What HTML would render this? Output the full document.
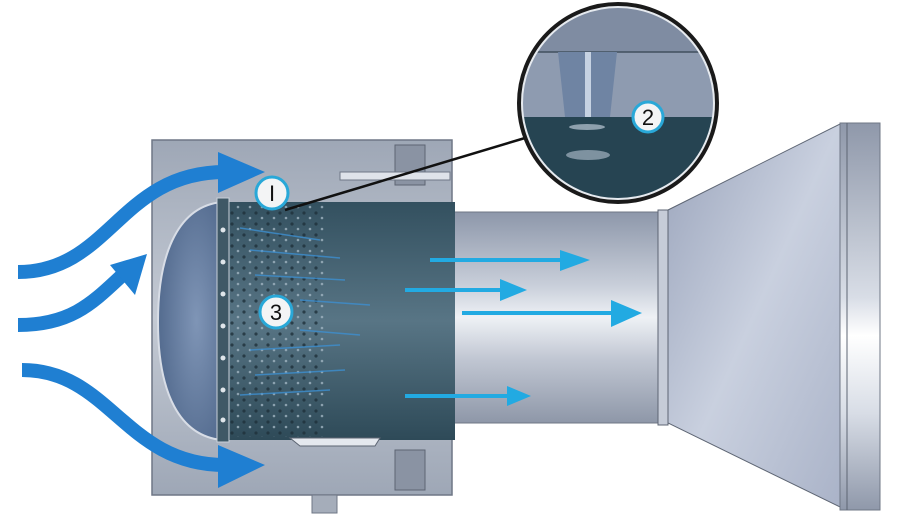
<!DOCTYPE html>
<html><head><style>
html,body{margin:0;padding:0;background:#fff;}
svg{display:block;}
text{font-family:"Liberation Sans",sans-serif;}
</style></head><body>
<svg width="910" height="524" viewBox="0 0 910 524" xmlns="http://www.w3.org/2000/svg">
<defs>
<linearGradient id="tube" x1="0" y1="0" x2="0" y2="1">
<stop offset="0" stop-color="#8d97aa"/><stop offset="0.35" stop-color="#c9cfda"/><stop offset="0.5" stop-color="#eef1f5"/><stop offset="0.7" stop-color="#c0c6d2"/><stop offset="1" stop-color="#8e97a8"/>
</linearGradient>
<linearGradient id="cone" x1="0" y1="0" x2="1" y2="1">
<stop offset="0" stop-color="#9aa4bb"/><stop offset="0.5" stop-color="#c9d0df"/><stop offset="1" stop-color="#aab3c8"/>
</linearGradient>
<linearGradient id="flange" x1="0" y1="0" x2="0" y2="1">
<stop offset="0" stop-color="#8f98aa"/><stop offset="0.45" stop-color="#d8dde6"/><stop offset="0.55" stop-color="#ffffff"/><stop offset="0.75" stop-color="#d8dde6"/><stop offset="1" stop-color="#8f98aa"/>
</linearGradient>
<linearGradient id="dark" x1="0" y1="0" x2="0" y2="1">
<stop offset="0" stop-color="#33505f"/><stop offset="0.5" stop-color="#587585"/><stop offset="1" stop-color="#2e4a58"/>
</linearGradient>
<linearGradient id="house" x1="0" y1="0" x2="0" y2="1">
<stop offset="0" stop-color="#9ea7b6"/><stop offset="0.5" stop-color="#c4cad4"/><stop offset="1" stop-color="#9ea7b6"/>
</linearGradient>
<radialGradient id="dome" cx="0.6" cy="0.5" r="0.7">
<stop offset="0" stop-color="#7f95b6"/><stop offset="1" stop-color="#4c6488"/>
</radialGradient>
<pattern id="holes" width="12" height="11" patternUnits="userSpaceOnUse">
<circle cx="4" cy="4" r="1.6" fill="#1e303a"/><circle cx="10" cy="9" r="1.3" fill="#9fb3c0"/>
</pattern>
<clipPath id="lens"><circle cx="618" cy="103" r="96"/></clipPath>
</defs>

<!-- housing -->
<rect x="152" y="140" width="300" height="355" fill="url(#house)" stroke="#6f7786" stroke-width="1.5"/>
<rect x="395" y="145" width="30" height="40" fill="#8a93a3" stroke="#5d6573"/>
<rect x="395" y="450" width="30" height="40" fill="#8a93a3" stroke="#5d6573"/>
<rect x="312" y="495" width="25" height="18" fill="#a5adba" stroke="#6f7786"/>
<rect x="340" y="172" width="110" height="8" fill="#dfe3ea" stroke="#6f7786"/>

<!-- tube -->
<rect x="452" y="212" width="208" height="211" fill="url(#tube)" stroke="#6f7786"/>
<rect x="658" y="210" width="10" height="215" fill="#c6ccd8" stroke="#5d6573"/>
<!-- cone -->
<polygon points="668,210 840,124 840,507 668,423" fill="url(#cone)" stroke="#5d6573"/>
<rect x="840" y="123" width="40" height="387" fill="url(#flange)" stroke="#6f7786"/>
<line x1="847" y1="123" x2="847" y2="510" stroke="#5d6573"/>

<!-- dome -->
<path d="M222,202 C180,206 158,250 158,322 C158,394 180,436 222,440 Z" fill="url(#dome)" stroke="#d8dde6" stroke-width="2"/>
<!-- dark cylinder -->
<rect x="222" y="202" width="233" height="238" fill="url(#dark)"/>
<rect x="230" y="205" width="95" height="232" fill="url(#holes)" opacity="0.8"/>
<rect x="217" y="198" width="12" height="244" fill="#3f5866" stroke="#c9d0d9"/>
<g fill="#dfe5ea">
<circle cx="223" cy="230" r="2.5"/><circle cx="223" cy="262" r="2.5"/><circle cx="223" cy="294" r="2.5"/><circle cx="223" cy="326" r="2.5"/><circle cx="223" cy="358" r="2.5"/><circle cx="223" cy="390" r="2.5"/><circle cx="223" cy="420" r="2.5"/>
</g>
<g stroke="#3d8fd0" stroke-width="1.5" opacity="0.8">
<line x1="240" y1="228" x2="320" y2="240"/><line x1="250" y1="250" x2="340" y2="258"/><line x1="255" y1="275" x2="345" y2="280"/><line x1="300" y1="300" x2="370" y2="305"/><line x1="300" y1="330" x2="360" y2="335"/><line x1="250" y1="350" x2="340" y2="345"/><line x1="255" y1="375" x2="345" y2="370"/><line x1="240" y1="395" x2="330" y2="390"/>
</g>
<path d="M290,438 L380,438 L375,446 L300,446 Z" fill="#e4e8ee" stroke="#5d6573"/>

<!-- flow arrows -->
<g fill="#22aae2" stroke="#22aae2">
<line x1="430" y1="260" x2="565" y2="260" stroke-width="4"/><polygon points="560,250 590,260 560,271" stroke="none"/>
<line x1="405" y1="290" x2="505" y2="290" stroke-width="4"/><polygon points="500,279 527,290 500,301" stroke="none"/>
<line x1="462" y1="313" x2="615" y2="313" stroke-width="4"/><polygon points="611,300 642,313 611,327" stroke="none"/>
<line x1="405" y1="396" x2="510" y2="396" stroke-width="4"/><polygon points="507,386 531,396 507,406" stroke="none"/>
</g>

<!-- big blue arrows -->
<g fill="none" stroke="#1f7fd2" stroke-width="14">
<path d="M18,272 C110,272 120,172 225,172"/>
<path d="M18,325 C75,325 95,300 130,268"/>
<path d="M22,370 C110,370 125,465 225,465"/>
</g>
<g fill="#1f7fd2">
<polygon points="218,152 265,172 218,193"/>
<polygon points="147,254 135,295 110,265"/>
<polygon points="218,445 265,465 218,488"/>
</g>

<!-- leader line -->
<line x1="285" y1="210" x2="525" y2="138" stroke="#111" stroke-width="2.5"/>

<!-- magnifier -->
<g clip-path="url(#lens)">
<rect x="518" y="5" width="200" height="200" fill="#8e9bb0"/>
<rect x="518" y="5" width="200" height="47" fill="#7f8ca2"/>
<line x1="518" y1="52" x2="718" y2="52" stroke="#40505e" stroke-width="1.5"/>
<polygon points="558,52 617,52 610,117 565,117" fill="#6f84a3"/>
<rect x="585" y="52" width="6" height="65" fill="#c6d2e2"/>
<rect x="518" y="117" width="200" height="90" fill="#264452"/>
<ellipse cx="587" cy="127" rx="18" ry="3" fill="#8ea0ad"/>
<ellipse cx="588" cy="155" rx="22" ry="5" fill="#7e92a0"/>
</g>
<circle cx="618" cy="103" r="96" fill="none" stroke="#e6eaef" stroke-width="2"/>
<circle cx="618" cy="103" r="99" fill="none" stroke="#1a1a1a" stroke-width="4"/>

<!-- labels -->
<g font-size="22" text-anchor="middle">
<circle cx="272" cy="193" r="16" fill="#f3f4f5" stroke="#29a8d8" stroke-width="3"/><text x="272" y="201" fill="#111">I</text>
<circle cx="276" cy="312" r="16" fill="#f3f4f5" stroke="#29a8d8" stroke-width="3"/><text x="276" y="320" fill="#111">3</text>
<circle cx="648" cy="117" r="15" fill="#f3f4f5" stroke="#29a8d8" stroke-width="3"/><text x="648" y="125" fill="#111">2</text>
</g>
</svg>
</body></html>
